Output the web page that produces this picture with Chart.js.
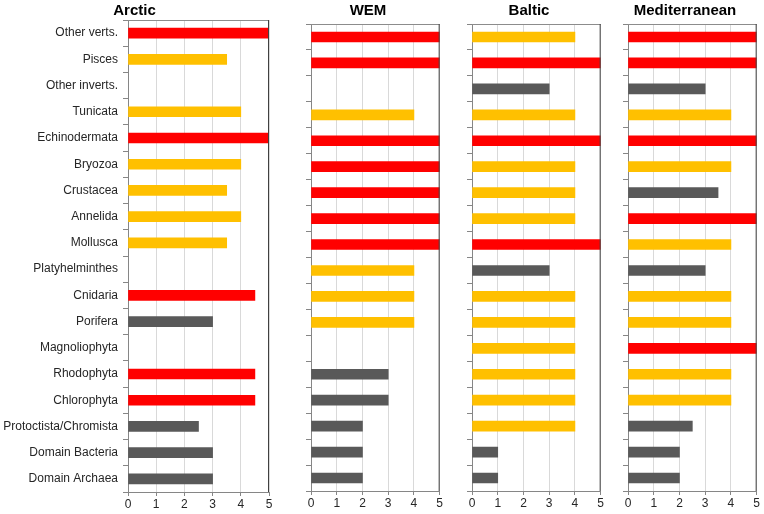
<!DOCTYPE html>
<html>
<head>
<meta charset="utf-8">
<script src="https://cdn.jsdelivr.net/npm/chart.js@4/dist/chart.umd.min.js"></script>
<style>
  body { margin: 0; background: #fff; }
  #wrap { position: relative; width: 764px; height: 514px; }
  .panel { position: absolute; top: 0; height: 514px; }
</style>
</head>
<body>
<div id="wrap">
  <div class="panel" style="left:0px;width:280px"><canvas id="arctic"></canvas></div>
  <div class="panel" style="left:296px;width:150px"><canvas id="wem"></canvas></div>
  <div class="panel" style="left:457px;width:150px"><canvas id="baltic"></canvas></div>
  <div class="panel" style="left:613px;width:150px"><canvas id="med"></canvas></div>
</div>
<script>
// taxa, top to bottom
const taxa = ["Other verts.", "Pisces", "Other inverts.", "Tunicata", "Echinodermata",
  "Bryozoa", "Crustacea", "Annelida", "Mollusca", "Platyhelminthes", "Cnidaria",
  "Porifera", "Magnoliophyta", "Rhodophyta", "Chlorophyta", "Protoctista/Chromista",
  "Domain Bacteria", "Domain Archaea"];

const xTicks = [0, 1, 2, 3, 4, 5];

// scores per region (null = no bar)
const arcticVals = [5, 3.5, null, 4, 5, 4, 3.5, 4, 3.5, null, 4.5, 3, null, 4.5, 4.5, 2.5, 3, 3];
const wemVals    = [5, 5, null, 4, 5, 5, 5, 5, 5, 4, 4, 4, null, 3, 3, 2, 2, 2];
const balticVals = [4, 5, 3, 4, 5, 4, 4, 4, 5, 3, 4, 4, 4, 4, 4, 4, 1, 1];
const medVals    = [5, 5, 3, 4, 5, 4, 3.5, 5, 4, 3, 4, 4, 5, 4, 4, 2.5, 2, 2];

// class of each bar: H = red, M = amber, L = grey
const arcticCls = ["H","M","","M","H","M","M","M","M","","H","L","","H","H","L","L","L"];
const wemCls    = ["H","H","","M","H","H","H","H","H","M","M","M","","L","L","L","L","L"];
const balticCls = ["M","H","L","M","H","M","M","M","H","L","M","M","M","M","M","M","L","L"];
const medCls    = ["H","H","L","M","H","M","L","H","M","L","M","M","H","M","M","L","L","L"];

const clsColor = { H: "#FF0000", M: "#FFC000", L: "#595959", "": "#ffffff" };

Chart.defaults.font.family = "'Liberation Sans', Arial, sans-serif";
Chart.defaults.font.size = 12;
Chart.defaults.color = "#262626";

// top and right border of the plot box
const frame = {
  id: "frame",
  afterDraw(chart) {
    const a = chart.chartArea, c = chart.ctx;
    c.save();
    c.lineWidth = 1;
    c.strokeStyle = "#8c8c8c";
    c.beginPath();
    c.moveTo(a.left, a.top + 0.5);
    c.lineTo(a.right, a.top + 0.5);
    c.stroke();
    c.strokeStyle = "#404040";
    c.beginPath();
    c.moveTo(a.right - 0.5, a.top);
    c.lineTo(a.right - 0.5, a.bottom);
    c.stroke();
    c.restore();
  }
};

function makePanel(id, title, vals, cls, opts) {
  new Chart(document.getElementById(id), {
    type: "bar",
    data: {
      labels: taxa,
      datasets: [{
        data: vals,
        backgroundColor: cls.map(k => clsColor[k]),
        barThickness: 10,
        borderWidth: 0
      }]
    },
    plugins: [frame],
    options: {
      indexAxis: "y",
      responsive: true,
      maintainAspectRatio: false,
      animation: false,
      layout: { padding: { top: 0, right: opts.padRight, bottom: opts.padBottom, left: 0 } },
      plugins: {
        legend: { display: false },
        tooltip: { enabled: false },
        title: {
          display: true,
          text: title,
          color: "#000",
          font: { size: 15, weight: "bold", lineHeight: 1 },
          padding: { top: 3, bottom: opts.titleGap }
        }
      },
      scales: {
        x: {
          min: 0,
          max: 5,
          afterBuildTicks: s => { s.ticks = xTicks.map(v => ({ value: v })); },
          ticks: { padding: 3, color: "#262626", font: { size: 12, lineHeight: 1 } },
          grid: { color: "#d9d9d9", tickColor: "#868686", tickLength: 4 },
          border: { color: "#868686" }
        },
        y: {
          afterFit: s => { s.width = opts.yWidth; },
          ticks: { display: opts.showLabels, padding: 5, color: "#262626", font: { size: 12 } },
          grid: { offset: true, drawOnChartArea: false, tickLength: 5, tickColor: "#868686" },
          border: { color: "#868686" }
        }
      }
    }
  });
}

makePanel("arctic", "Arctic", arcticVals, arcticCls, { yWidth: 128, padRight: 11, padBottom: 0, titleGap: 2, showLabels: true });
makePanel("wem", "WEM", wemVals, wemCls, { yWidth: 15, padRight: 6, padBottom: 1, titleGap: 6, showLabels: false });
makePanel("baltic", "Baltic", balticVals, balticCls, { yWidth: 15, padRight: 6, padBottom: 1, titleGap: 6, showLabels: false });
makePanel("med", "Mediterranean", medVals, medCls, { yWidth: 15, padRight: 6, padBottom: 1, titleGap: 6, showLabels: false });
</script>
</body>
</html>
